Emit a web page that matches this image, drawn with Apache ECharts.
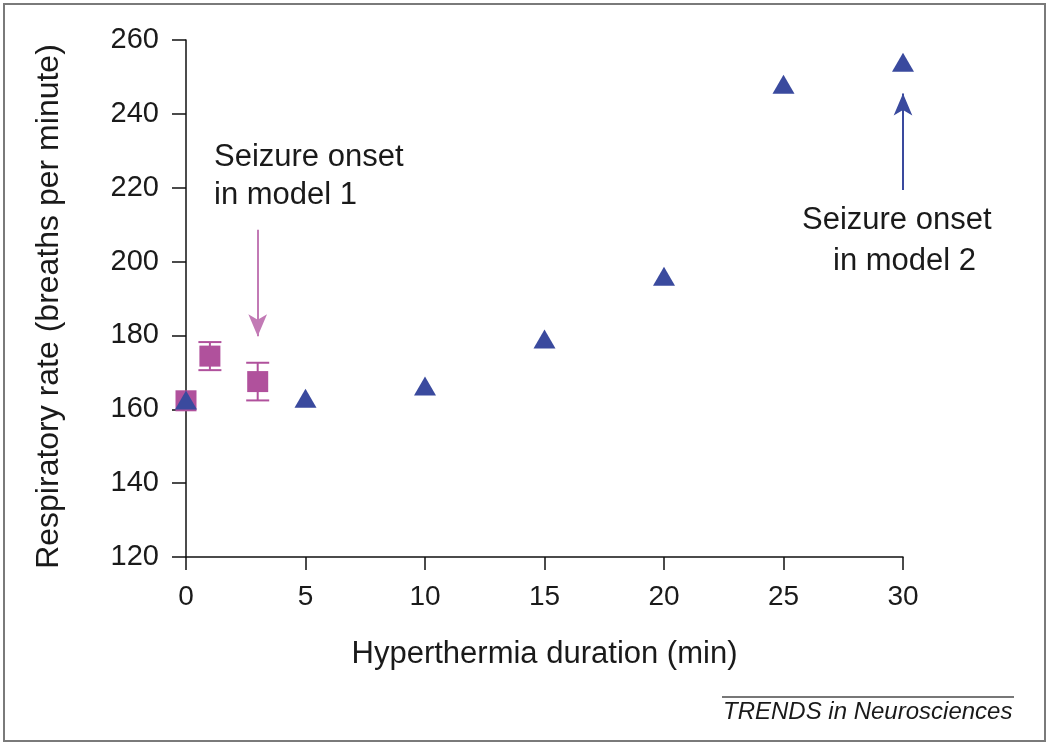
<!DOCTYPE html>
<html><head><meta charset="utf-8">
<script src="https://cdn.jsdelivr.net/npm/echarts@6/dist/echarts.min.js"></script>
<style>html,body{margin:0;padding:0;background:#fff}#c{width:1050px;height:746px}</style>
</head><body><div id="c"></div>
<script>
// Data
const model2X = [0, 5, 10, 15, 20, 25, 30];
const model2Y = [162.5, 163, 166.3, 179, 196, 248, 254];
const model1X = [0, 1, 3];
const model1Y = [162.3, 174.4, 167.5];
const model1Err = [0, 3.8, 5.1];
const xTicks = [0, 5, 10, 15, 20, 25, 30];
const yTicks = [120, 140, 160, 180, 200, 220, 240, 260];
const arrow1 = [[3, 208.6], [3, 179.8]];
const arrow2 = [[30, 219.4], [30, 245.5]];

const pink = '#b0519c', pinkArrow = '#c27ab5', blue = '#3a4a9e';
const font = 'Liberation Sans, Arial, Helvetica, sans-serif';
const chart = echarts.init(document.getElementById('c'));
chart.setOption({
  animation: false,
  backgroundColor: '#fff',
  grid: {left: 186, right: 147, top: 40, bottom: 189, containLabel: false},
  xAxis: {
    type: 'value', min: xTicks[0], max: xTicks[xTicks.length-1], interval: 5,
    name: 'Hyperthermia duration (min)', nameLocation: 'middle', nameGap: 82,
    nameTextStyle: {fontFamily: font, fontSize: 31, color: '#1a1a1a'},
    axisLine: {onZero: false, lineStyle: {color: '#111', width: 1.5}},
    axisTick: {length: 13, lineStyle: {color: '#111', width: 1.5}},
    axisLabel: {fontFamily: font, fontSize: 28, color: '#1a1a1a', margin: 26},
    splitLine: {show: false}
  },
  yAxis: {
    type: 'value', min: yTicks[0], max: yTicks[yTicks.length-1], interval: 20,
    name: 'Respiratory rate (breaths per minute)', nameLocation: 'middle', nameGap: 121,
    nameTextStyle: {fontFamily: font, fontSize: 32, color: '#1a1a1a', padding: [0, 16, 0, 0]},
    axisLine: {onZero: false, lineStyle: {color: '#111', width: 1.5}},
    axisTick: {length: 14, lineStyle: {color: '#111', width: 1.5}},
    axisLabel: {fontFamily: font, fontSize: 29, color: '#1a1a1a', margin: 27},
    splitLine: {show: false}
  },
  series: [
    {
      type: 'custom', z: 3,
      data: model1X.map((x, i) => [x, model1Y[i], model1Err[i]]),
      renderItem: function (params, api) {
        const x = api.value(0), y = api.value(1), e = api.value(2);
        if (!e) return null;
        const top = api.coord([x, y + e]);
        const bot = api.coord([x, y - e]);
        const hw = 11.5;
        const st = {stroke: pink, lineWidth: 2};
        return {type: 'group', children: [
          {type: 'line', shape: {x1: top[0], y1: top[1], x2: bot[0], y2: bot[1]}, style: st},
          {type: 'line', shape: {x1: top[0]-hw, y1: top[1], x2: top[0]+hw, y2: top[1]}, style: st},
          {type: 'line', shape: {x1: bot[0]-hw, y1: bot[1], x2: bot[0]+hw, y2: bot[1]}, style: st}
        ]};
      }
    },
    {
      type: 'scatter', z: 4, symbol: 'rect', symbolSize: 21,
      itemStyle: {color: pink, opacity: 1},
      data: model1X.map((x, i) => [x, model1Y[i]]),
      markLine: {
        silent: true, symbol: ['none', 'arrow'], symbolSize: [14, 22],
        lineStyle: {color: pinkArrow, width: 2, type: 'solid'},
        label: {show: false},
        data: [[{coord: arrow1[0]}, {coord: arrow1[1]}]]
      }
    },
    {
      type: 'scatter', z: 5, symbol: 'triangle', symbolSize: [22, 19],
      itemStyle: {color: blue, opacity: 1},
      data: model2X.map((x, i) => [x, model2Y[i]]),
      markLine: {
        silent: true, symbol: ['none', 'arrow'], symbolSize: [14, 22],
        lineStyle: {color: blue, width: 2, type: 'solid'},
        label: {show: false},
        data: [[{coord: arrow2[0]}, {coord: arrow2[1]}]]
      }
    }
  ],
  graphic: [
    {type: 'rect', shape: {x: 4, y: 4, width: 1041, height: 737}, style: {fill: 'none', stroke: '#7a7a7a', lineWidth: 2}, silent: true},
    {type: 'text', left: 214, top: 142, style: {text: 'Seizure onset', font: '31px ' + font, fill: '#1a1a1a'}},
    {type: 'text', left: 214, top: 180, style: {text: 'in model 1', font: '31px ' + font, fill: '#1a1a1a'}},
    {type: 'text', left: 802, top: 205, style: {text: 'Seizure onset', font: '31px ' + font, fill: '#1a1a1a'}},
    {type: 'text', left: 833, top: 246, style: {text: 'in model 2', font: '31px ' + font, fill: '#1a1a1a'}},
    {type: 'line', shape: {x1: 722, y1: 697, x2: 1014, y2: 697}, style: {stroke: '#777', lineWidth: 2}},
    {type: 'text', left: 723, top: 700, style: {text: 'TRENDS in Neurosciences', font: 'italic 24px ' + font, fill: '#1a1a1a'}}
  ]
});
</script></body></html>
